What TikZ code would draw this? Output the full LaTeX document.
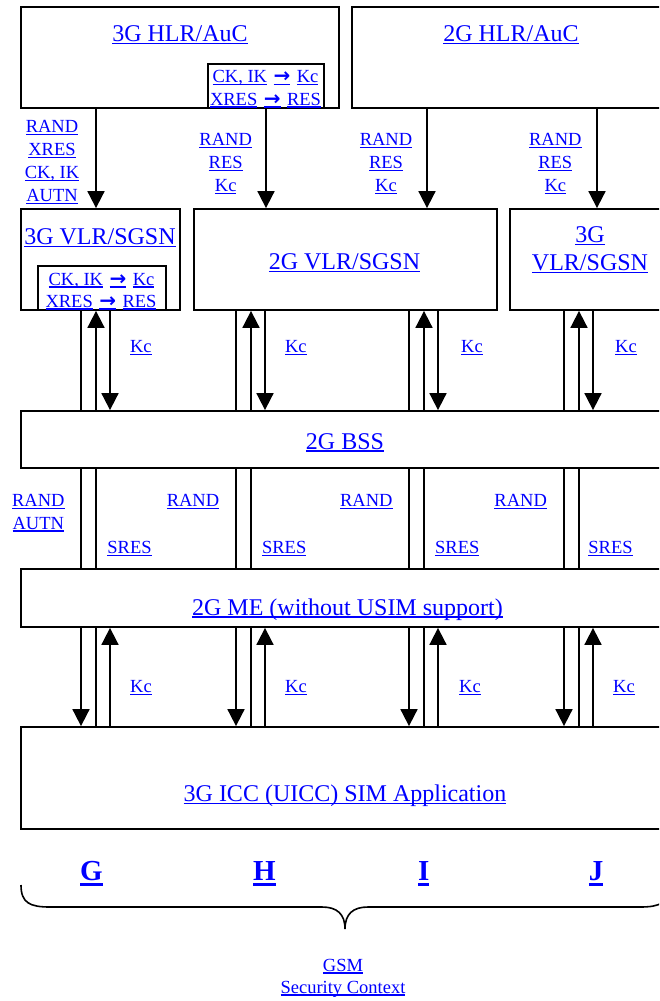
\documentclass[tikz,border=0pt]{standalone}
\usepackage{fontspec}
\setmainfont{Liberation Serif}
\newfontfamily\arrowfont{DejaVu Sans}
\usetikzlibrary{arrows.meta}
\definecolor{lnk}{RGB}{0,0,255}
\newcommand\myul[1]{\setbox0=\hbox{#1}\leavevmode\rlap{\color{lnk}\rule[-2.7pt]{\wd0}{1.3pt}}\box0\relax}
\newcommand\myulb[1]{\setbox0=\hbox{#1}\leavevmode\rlap{\color{lnk}\rule[-5.6pt]{\wd0}{2.3pt}}\box0\relax}
\newcommand\myarr{{\arrowfont\bfseries\fontsize{20}{22}\selectfont →}}
\newcommand\gp{\hspace{6.5pt}}
\tikzset{
  bx/.style={draw, line width=1.8pt, inner sep=0pt, fill=white},
  big/.style={text=lnk, font=\fontsize{24}{28}\selectfont, inner sep=0pt, anchor=base},
  sml/.style={text=lnk, font=\fontsize{18.5}{22}\selectfont, inner sep=0pt, anchor=base},
  bold/.style={text=lnk, font=\fontsize{29}{32}\selectfont\bfseries, inner sep=0pt, anchor=base},
  ln/.style={line width=1.8pt},
  arr/.style={line width=1.8pt, -{Triangle[length=17pt,width=17pt]}},
}
\begin{document}
\begin{tikzpicture}[x=1pt,y=-1pt]
\useasboundingbox (0,0) rectangle (659,1001);
\clip (0,0) rectangle (659,1001);
\fill[white] (0,0) rectangle (659,1001);

% HLR boxes
\node[bx, minimum width=318pt, minimum height=101pt] (hlr3) at (180,57.5) {};
\node[big] (hlr3t) at (180,41.5) {\myul{3G HLR/AuC}};
\node[bx, minimum width=318pt, minimum height=101pt] (hlr2) at (511,57.5) {};
\node[big] (hlr2t) at (511,41.5) {\myul{2G HLR/AuC}};
\node[bx, minimum width=116pt, minimum height=44pt] (ck1) at (266,86) {};
\node[sml] (ck1a) at (265.5,82.3) {\myul{CK, IK}\gp\myul{\myarr}\gp\myul{Kc}};
\node[sml] (ck1b) at (265.5,105) {\myul{XRES}\gp\myul{\myarr}\gp\myul{RES}};

% VLR boxes
\node[bx, minimum width=159pt, minimum height=101pt] (vlr3a) at (100.5,259.5) {};
\node[big] (vlr3at) at (100,244.3) {\myul{3G VLR/SGSN}};
\node[bx, minimum width=128pt, minimum height=44pt] (ck2) at (102,288) {};
\node[sml] (ck2a) at (101.5,285) {\myul{CK, IK}\gp\myul{\myarr}\gp\myul{Kc}};
\node[sml] (ck2b) at (101,307) {\myul{XRES}\gp\myul{\myarr}\gp\myul{RES}};
\node[bx, minimum width=303pt, minimum height=101pt] (vlr2) at (345.5,259.5) {};
\node[big] (vlr2t) at (344.5,269.3) {\myul{2G VLR/SGSN}};
\node[bx, minimum width=160pt, minimum height=101pt] (vlr3b) at (590,259.5) {};
\node[big] (vlr3bt1) at (590,242.7) {\myul{3G}};
\node[big] (vlr3bt2) at (590,270.7) {\myul{VLR/SGSN}};

% BSS, ME, ICC
\node[bx, minimum width=648pt, minimum height=57pt] (bss) at (345,439.5) {};
\node[big] (bsst) at (345,449) {\myul{2G BSS}};
\node[bx, minimum width=648pt, minimum height=58pt] (me) at (345,598) {};
\node[big] (met) at (347.5,615) {\myul{2G ME (without USIM support)}};
\node[bx, minimum width=648pt, minimum height=102pt] (icc) at (345,778) {};
\node[big] (icct) at (345,801.7) {\myul{3G ICC (UICC) SIM Application}};

% HLR -> VLR arrows
\draw[arr] (hlr3.south -| 96,0) -- (vlr3a.north -| 96,0);
\draw[arr] (ck1.south -| 266,0) -- (vlr2.north -| 266,0);
\draw[arr] (hlr2.south -| 427,0) -- (vlr2.north -| 427,0);
\draw[arr] (hlr2.south -| 597,0) -- (vlr3b.north -| 597,0);

\node[sml] (l1a) at (52,132.5) {\myul{RAND}};
\node[sml] (l1b) at (52,155.5) {\myul{XRES}};
\node[sml] (l1c) at (52,178.5) {\myul{CK, IK}};
\node[sml] (l1d) at (52,201.5) {\myul{AUTN}};
\foreach \lx [count=\i] in {225.7,386,555.3} {
  \node[sml] (lr\i a) at (\lx,145.7) {\myul{RAND}};
  \node[sml] (lr\i b) at (\lx,168.7) {\myul{RES}};
  \node[sml] (lr\i c) at (\lx,191.7) {\myul{Kc}};
}

% groups of lines
\foreach \x/\v [evaluate=\x as \xa using \x+15, evaluate=\x as \xb using \x+29] in {81/vlr3a,236/vlr2,409/vlr2,564/vlr3b} {
  \draw[ln] (\v.south -| \x,0) -- (bss.north -| \x,0);
  \draw[arr] (bss.north -| \xa,0) -- (\v.south -| \xa,0);
  \draw[arr] (\v.south -| \xb,0) -- (bss.north -| \xb,0);
  \draw[ln] (bss.south -| \x,0) -- (me.north -| \x,0);
  \draw[ln] (bss.south -| \xa,0) -- (me.north -| \xa,0);
  \draw[arr] (me.south -| \x,0) -- (icc.north -| \x,0);
  \draw[ln] (me.south -| \xa,0) -- (icc.north -| \xa,0);
  \draw[arr] (icc.north -| \xb,0) -- (me.south -| \xb,0);
}

% Kc labels
\foreach \kx [count=\i] in {140.8,295.8,472,626} {
  \node[sml] (kcu\i) at (\kx,352.3) {\myul{Kc}};
}
\foreach \kx [count=\i] in {141,296,470,624} {
  \node[sml] (kcl\i) at (\kx,692.7) {\myul{Kc}};
}

% BSS-ME labels
\node[sml] (ra0) at (38.3,506.7) {\myul{RAND}};
\node[sml] (au0) at (38.3,529) {\myul{AUTN}};
\foreach \rx [count=\i] in {193,366.3,520.7} {
  \node[sml] (ra\i) at (\rx,506.7) {\myul{RAND}};
}
\foreach \sx [count=\i] in {129.5,284.2,457.3,610.5} {
  \node[sml] (sr\i) at (\sx,553.3) {\myul{SRES}};
}

% G H I J
\node[bold] (cg) at (91.4,880) {\myulb{G}};
\node[bold] (ch) at (264.5,880) {\myulb{H}};
\node[bold] (ci) at (423.7,880) {\myulb{I}};
\node[bold] (cj) at (596,880) {\myulb{J}};

% brace
\draw[line width=1.6pt] (21,885) .. controls (21,903) and (30,907) .. (50,907) -- (322,907)
  .. controls (337,907) and (345,914) .. (345,929)
  .. controls (345,914) and (353,907) .. (368,907) -- (640,907)
  .. controls (660,907) and (669,903) .. (669,885);

\node[sml] (gsm1) at (343,971) {\myul{GSM}};
\node[sml] (gsm2) at (343,993) {\myul{Security Context}};
\end{tikzpicture}
\end{document}
